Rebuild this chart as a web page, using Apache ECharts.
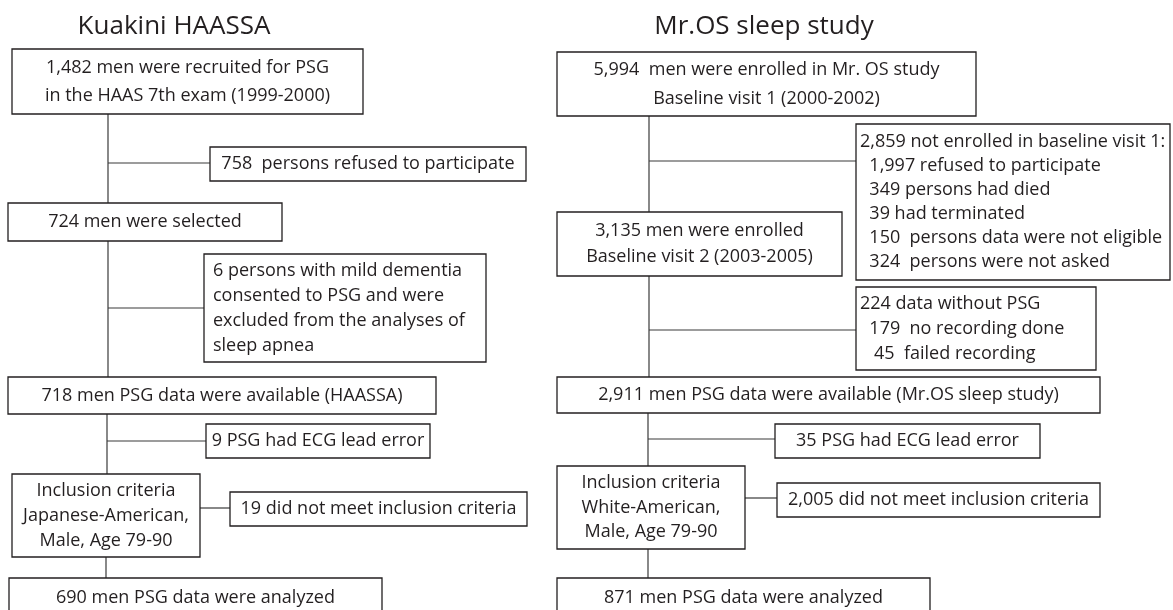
<!DOCTYPE html>
<html>
<head>
<meta charset="utf-8">
<script src="https://cdn.jsdelivr.net/npm/echarts@6/dist/echarts.min.js"></script>
<style>
html, body { margin: 0; padding: 0; background: #fff; }
#main { width: 1173px; height: 610px; }
</style>
</head>
<body>
<div id="main"></div>
<script>
var titleTexts = ['Kuakini HAASSA', 'Mr.OS sleep study'];
var titlePos = [[174, 27], [764, 27]];

// box contents, one entry per box (lines of text)
var boxTexts = [
	['1,482 men were recruited for PSG', 'in the HAAS 7th exam (1999-2000)'],
	['758  persons refused to participate'],
	['724 men were selected'],
	['6 persons with mild dementia', 'consented to PSG and were', 'excluded from the analyses of', 'sleep apnea'],
	['718 men PSG data were available (HAASSA)'],
	['9 PSG had ECG lead error'],
	['Inclusion criteria', 'Japanese-American,', 'Male, Age 79-90'],
	['19 did not meet inclusion criteria'],
	['690 men PSG data were analyzed'],
	['5,994  men were enrolled in Mr. OS study', 'Baseline visit 1 (2000-2002)'],
	['2,859 not enrolled in baseline visit 1:', '  1,997 refused to participate', '  349 persons had died', '  39 had terminated', '  150  persons data were not eligible', '  324  persons were not asked'],
	['3,135 men were enrolled', 'Baseline visit 2 (2003-2005)'],
	['224 data without PSG', '  179  no recording done', '   45  failed recording'],
	['2,911 men PSG data were available (Mr.OS sleep study)'],
	['35 PSG had ECG lead error'],
	['Inclusion criteria', 'White-American,', 'Male, Age 79-90'],
	['2,005 did not meet inclusion criteria'],
	['871 men PSG data were analyzed']
];

// box layout: x0, y0, x1, y1 in page units
var boxRects = [
	[12, 49, 363, 114],
	[210, 147, 526, 181],
	[8, 203, 282, 241],
	[204, 254, 486, 362],
	[8, 377, 436, 414],
	[206, 424, 430, 458],
	[12, 474, 200, 557],
	[230, 492, 527, 526],
	[9, 578, 382, 630],
	[557, 52, 976, 116],
	[856, 124, 1170, 280],
	[557, 212, 842, 276],
	[856, 287, 1096, 370],
	[557, 377, 1100, 413],
	[775, 424, 1040, 458],
	[557, 466, 745, 549],
	[777, 483, 1100, 517],
	[557, 578, 930, 630]
];
// text alignment and line height per box
var boxAlign = ['center', 'center', 'center', 'left', 'center', 'center', 'center', 'center', 'center',
	'center', 'left', 'center', 'left', 'center', 'center', 'center', 'center', 'center'];
var boxLineHeight = [28, 25, 25, 25, 25, 25, 25, 25, 25, 29, 24, 26, 25, 25, 25, 24.5, 25, 25];
var boxPad = [0, 0, 0, 9, 0, 0, 0, 0, 0, 0, 4, 0, 4, 0, 0, 0, 0, 0];

// connector segments: x0, y0, x1, y1
var linkSegments = [
	[108, 114, 108, 203], [108, 163, 210, 163], [108, 241, 108, 377], [108, 308, 204, 308],
	[107, 414, 107, 474], [107, 441, 206, 441], [200, 508, 230, 508], [106, 557, 106, 578],
	[649, 116, 649, 212], [649, 161, 856, 161], [649, 276, 649, 377], [649, 330, 856, 330],
	[648, 413, 648, 466], [648, 439, 775, 439], [745, 498, 777, 498], [648, 549, 648, 578]
];

var FONT = '"Open Sans", Lato, sans-serif';
var INK = '#231f20';

var chart = echarts.init(document.getElementById('main'), null, { renderer: 'canvas' });

var boxData = boxRects.map(function (r, i) {
	return [r[0], r[1], r[2], r[3], i];
});
var titleData = titlePos.map(function (p, i) {
	return [p[0], p[1], i];
});

function renderBox(params, api) {
	var i = api.value(4);
	var p0 = api.coord([api.value(0), api.value(1)]);
	var p1 = api.coord([api.value(2), api.value(3)]);
	var lines = boxTexts[i];
	var lh = boxLineHeight[i];
	var cy = (p0[1] + p1[1]) / 2;
	if (i == 8 || i == 17) {
		cy = api.coord([0, 598])[1];
	}
	var align = boxAlign[i];
	var tx = align == 'left' ? p0[0] + boxPad[i] : (p0[0] + p1[0]) / 2;
	return {
		type: 'group',
		children: [{
			type: 'rect',
			shape: { x: p0[0], y: p0[1], width: p1[0] - p0[0], height: p1[1] - p0[1] },
			style: { fill: '#fff', stroke: INK, lineWidth: 1.3 }
		}, {
			type: 'text',
			style: {
				text: lines.join('\n'),
				x: tx,
				y: cy,
				align: align,
				verticalAlign: 'middle',
				lineHeight: lh,
				font: '18px ' + FONT,
				fill: INK
			}
		}]
	};
}

function renderLink(params, api) {
	var a = api.coord([api.value(0), api.value(1)]);
	var b = api.coord([api.value(2), api.value(3)]);
	return {
		type: 'line',
		shape: { x1: a[0], y1: a[1], x2: b[0], y2: b[1] },
		style: { stroke: '#3a3a3a', lineWidth: 1.2 }
	};
}

function renderTitle(params, api) {
	var p = api.coord([api.value(0), api.value(1)]);
	return {
		type: 'text',
		style: {
			text: titleTexts[api.value(2)],
			x: p[0],
			y: p[1],
			align: 'center',
			verticalAlign: 'middle',
			font: '26px ' + FONT,
			fill: INK
		}
	};
}

var option = {
	backgroundColor: '#fff',
	animation: false,
	grid: { left: 0, right: 0, top: 0, bottom: 0 },
	xAxis: { type: 'value', min: 0, max: 1173, show: false },
	yAxis: { type: 'value', min: 0, max: 610, inverse: true, show: false },
	series: [
		{
			type: 'custom',
			renderItem: renderLink,
			data: linkSegments,
			clip: false,
			z: 1
		},
		{
			type: 'custom',
			renderItem: renderBox,
			data: boxData,
			clip: true,
			z: 2
		},
		{
			type: 'custom',
			renderItem: renderTitle,
			data: titleData,
			z: 3
		}
	]
};
chart.setOption(option);
</script>
</body>
</html>
